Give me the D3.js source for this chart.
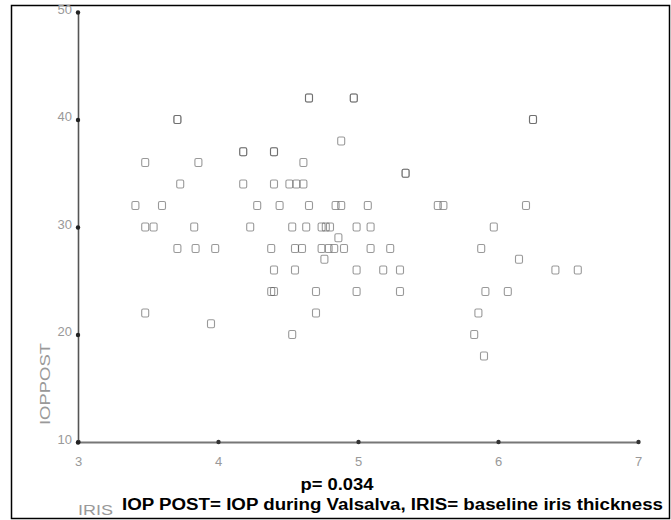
<!DOCTYPE html>
<html><head><meta charset="utf-8">
<script src="https://cdn.jsdelivr.net/npm/d3@7"></script>
<style>body{margin:0;background:#fff}svg{display:block}</style>
</head><body>
<script>
// IRIS (baseline iris thickness) values and IOP POST values
const iris = [
  4.65,4.65, 4.97,4.97,
  3.71,3.71, 6.25,6.25,
  4.88,
  4.18,4.18, 4.40,4.40,
  3.48, 3.86, 4.61,
  5.34,5.34,
  3.73, 4.18, 4.40, 4.51, 4.56, 4.61,
  3.41, 3.60, 4.28, 4.44, 4.65, 4.84, 4.88, 5.07, 5.57, 5.61, 6.20,
  3.48, 3.54, 3.83, 4.23, 4.53, 4.63, 4.74, 4.77, 4.80, 4.99, 5.09, 5.97,
  4.86,
  3.71, 3.84, 3.98, 4.38, 4.55, 4.60, 4.74, 4.79, 4.83, 4.90, 5.09, 5.23, 5.88,
  4.76, 6.15,
  4.40, 4.55, 4.99, 5.18, 5.30, 6.41, 6.57,
  4.38, 4.40, 4.70, 4.99, 5.30, 5.91, 6.07,
  3.48, 4.70, 5.86,
  3.95,
  4.53, 5.83,
  5.90
];
const iopPost = [
  42,42, 42,42,
  40,40, 40,40,
  38,
  37,37, 37,37,
  36, 36, 36,
  35,35,
  34, 34, 34, 34, 34, 34,
  32, 32, 32, 32, 32, 32, 32, 32, 32, 32, 32,
  30, 30, 30, 30, 30, 30, 30, 30, 30, 30, 30, 30,
  29,
  28, 28, 28, 28, 28, 28, 28, 28, 28, 28, 28, 28, 28,
  27, 27,
  26, 26, 26, 26, 26, 26, 26,
  24, 24, 24, 24, 24, 24, 24,
  22, 22, 22,
  21,
  20, 20,
  18
];
const xTicks = [3,4,5,6,7];
const yTicks = [10,20,30,40,50];
const xLabel = "IRIS";
const yLabel = "IOPPOST";
const pText = "p= 0.034";
const noteText = "IOP POST= IOP during Valsalva, IRIS= baseline iris thickness";

const W = 671, H = 520;
const svg = d3.select("body").append("svg").attr("width", W).attr("height", H);
svg.append("rect").attr("width", W).attr("height", H).attr("fill", "#fff");
svg.append("rect").attr("x", 11.5).attr("y", 5.5).attr("width", 658).attr("height", 513)
  .attr("fill", "none").attr("stroke", "#000").attr("stroke-width", 1.5);

const x = d3.scaleLinear().domain([3,7]).range([78,638]);
const y = d3.scaleLinear().domain([10,50]).range([442,12]);

const tickFont = "'Liberation Sans Narrow','Arial Narrow','Liberation Sans',sans-serif";

// x axis
const xa = svg.append("g").attr("transform", `translate(0,${y(10)})`)
  .call(d3.axisBottom(x).tickValues(xTicks).tickSize(0).tickPadding(15).tickFormat(d3.format("d")));
xa.select(".domain").attr("stroke", "#777").attr("stroke-width", 2);
xa.selectAll("text").attr("fill", "#999").attr("font-size", 13).attr("font-family", tickFont);
xa.selectAll(".tick").append("circle").attr("r", 2.2).attr("fill", "#333");

// y axis
const ya = svg.append("g").attr("transform", `translate(${x(3)},0)`)
  .call(d3.axisLeft(y).tickValues(yTicks).tickSize(0).tickPadding(6).tickFormat(d3.format("d")));
ya.select(".domain").attr("stroke", "#555").attr("stroke-width", 1.6);
ya.selectAll("text").attr("fill", "#999").attr("font-size", 13).attr("font-family", tickFont).attr("dy", "0.1em");
ya.selectAll(".tick").append("circle").attr("r", 2.2).attr("fill", "#222");

// points
const pts = iris.map((v,i) => ({x: v, y: iopPost[i]}));
svg.append("g").selectAll("rect").data(pts).join("rect")
  .attr("x", d => x(d.x) - 3.5).attr("y", d => y(d.y) - 4)
  .attr("width", 7).attr("height", 8).attr("rx", 1.5)
  .attr("fill", "none").attr("stroke", "#555").attr("stroke-opacity", 0.6).attr("stroke-width", 1.1);

// labels
svg.append("text").attr("transform", "translate(50,384) rotate(-90)")
  .attr("text-anchor", "middle").attr("fill", "#999").attr("font-size", 14)
  .attr("font-family", tickFont).attr("textLength", 82).attr("lengthAdjust", "spacingAndGlyphs").text(yLabel);
svg.append("text").attr("x", 78).attr("y", 515).attr("fill", "#999").attr("font-size", 14)
  .attr("font-family", tickFont).attr("textLength", 35).attr("lengthAdjust", "spacingAndGlyphs").text(xLabel);
svg.append("text").attr("x", 337).attr("y", 490).attr("text-anchor", "middle")
  .attr("font-weight", "bold").attr("font-size", 16).attr("font-family", "'Liberation Sans',Arial,sans-serif")
  .attr("textLength", 73).attr("lengthAdjust", "spacingAndGlyphs").text(pText);
svg.append("text").attr("x", 122).attr("y", 510)
  .attr("font-weight", "bold").attr("font-size", 16).attr("font-family", "'Liberation Sans',Arial,sans-serif")
  .attr("textLength", 541).attr("lengthAdjust", "spacingAndGlyphs").text(noteText);
</script>
</body></html>
